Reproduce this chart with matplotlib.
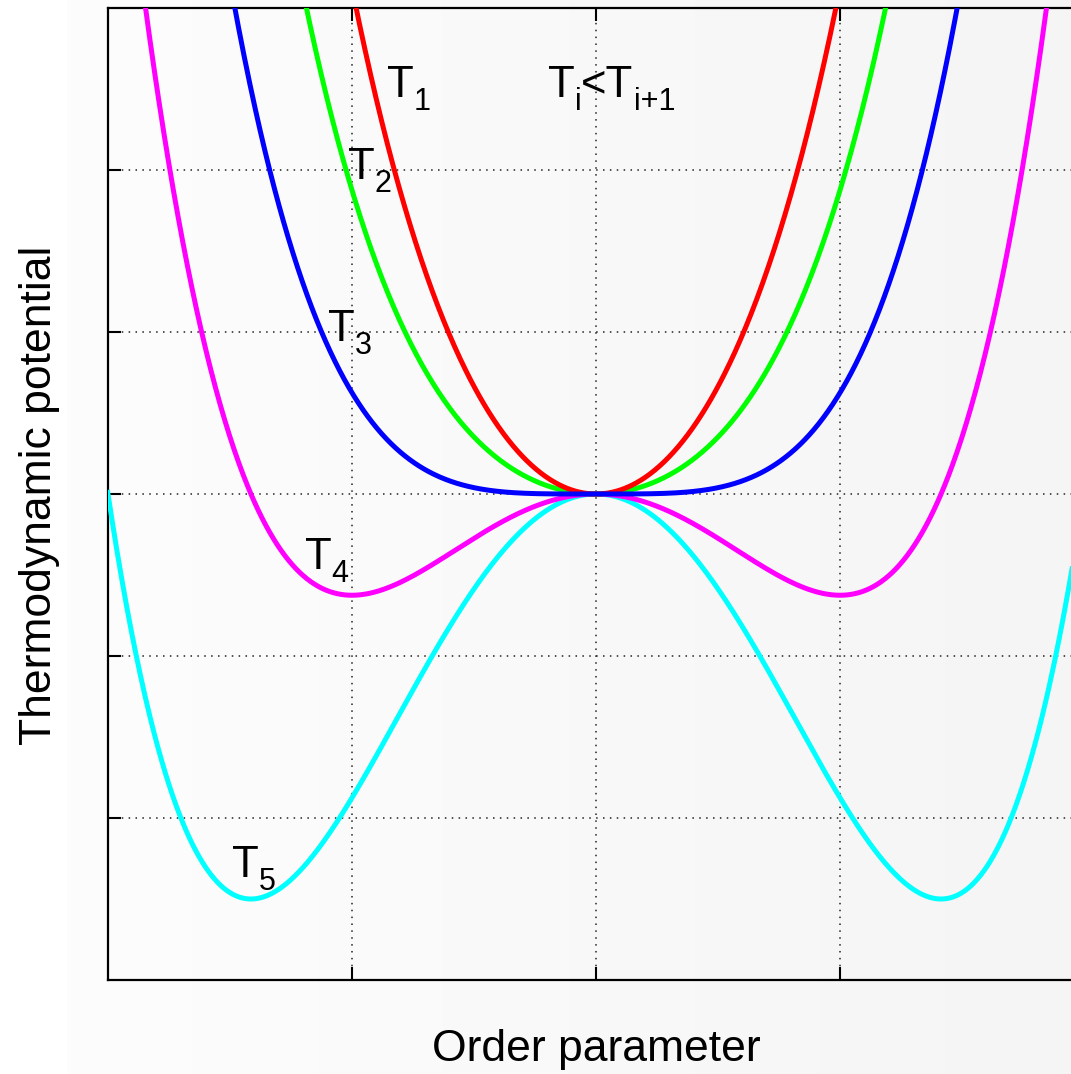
import numpy as np
import matplotlib
matplotlib.use("Agg")
from matplotlib import pyplot as plt
from matplotlib.colors import LinearSegmentedColormap
from matplotlib.transforms import IdentityTransform

plt.rcParams['font.family'] = ['Liberation Sans', 'DejaVu Sans']

# Landau expansion F = a*eta^2 + b*eta^4, one quadratic coefficient per temperature
temp_names = ['1', '2', '3', '4', '5']
quad_coef = [2.5, 1.25, 0.0, -1.25, -2.5]
quart_coef = 0.625
line_colors = ['#ff0000', '#00ff00', '#0000ff', '#ff00ff', '#00ffff']
# label anchors (data coords, baseline of the "T")
label_x = [-0.857, -1.016, -1.098, -1.193, -1.492]
label_y = [2.451, 1.944, 0.944, -0.463, -2.364]

x_ticks = [-1, 0, 1]
y_ticks = [-2, -1, 0, 1, 2]

FS = 31.5     # main text size
FS_SUB = 22   # subscript size
SUB_DROP = 13 # pixels the subscript sits below the baseline

fig = plt.figure(figsize=(10.71, 10.74), dpi=100)
renderer = fig.canvas.get_renderer()

# faint grey shading behind everything
bg = fig.add_axes([67 / 1071, 0, 1 - 67 / 1071, 1], zorder=0)
shade = LinearSegmentedColormap.from_list('shade', ['#fdfdfd', '#f5f5f5'])
bg.imshow(np.linspace(0, 1, 256).reshape(1, -1), aspect='auto', cmap=shade,
          extent=[0, 1, 0, 1])
bg.axis('off')

ax = fig.add_axes([108 / 1071, 1 - 980 / 1074, 976 / 1071, 972 / 1074], zorder=1)
ax.set_facecolor('none')
ax.set_xlim(-2, 2)
ax.set_ylim(-3, 3)

eta = np.linspace(-2.3, 2.3, 1201)
draw_order = [4, 3, 1, 0, 2]
for i in draw_order:
    F = quad_coef[i] * eta**2 + quart_coef * eta**4
    ax.plot(eta, F, color=line_colors[i], lw=3.6, zorder=3)


def sub_text(x, y, parts):
    # write pieces left to right; (text, True) pieces are subscripts
    px, py = ax.transData.transform((x, y))
    for s, is_sub in parts:
        t = fig.text(px, py - (SUB_DROP if is_sub else 0), s,
                     fontsize=FS_SUB if is_sub else FS,
                     ha='left', va='baseline', transform=IdentityTransform(),
                     zorder=5)
        px += t.get_window_extent(renderer).width


for i in range(len(temp_names)):
    sub_text(label_x[i], label_y[i], [('T', False), (temp_names[i], True)])
sub_text(-0.197, 2.451, [('T', False), ('i', True), ('<T', False), ('i+1', True)])

ax.set_xticks(x_ticks)
ax.set_yticks(y_ticks)
ax.set_xticklabels([])
ax.set_yticklabels([])
ax.tick_params(direction='in', length=9.5, width=1.5, top=True, right=True)
ax.grid(True, color='#222222', linestyle=(0, (1, 3.5)), linewidth=1.1)
for sp in ax.spines.values():
    sp.set_linewidth(1.6)

fig.text(596 / 1071, 1 - 1050 / 1074, 'Order parameter', fontsize=32,
         ha='center', va='center')
fig.text(40 / 1071, 1 - 495 / 1074, 'Thermodynamic potential', fontsize=32,
         ha='center', va='center', rotation=90)

fig.savefig('out.png', dpi=100)
